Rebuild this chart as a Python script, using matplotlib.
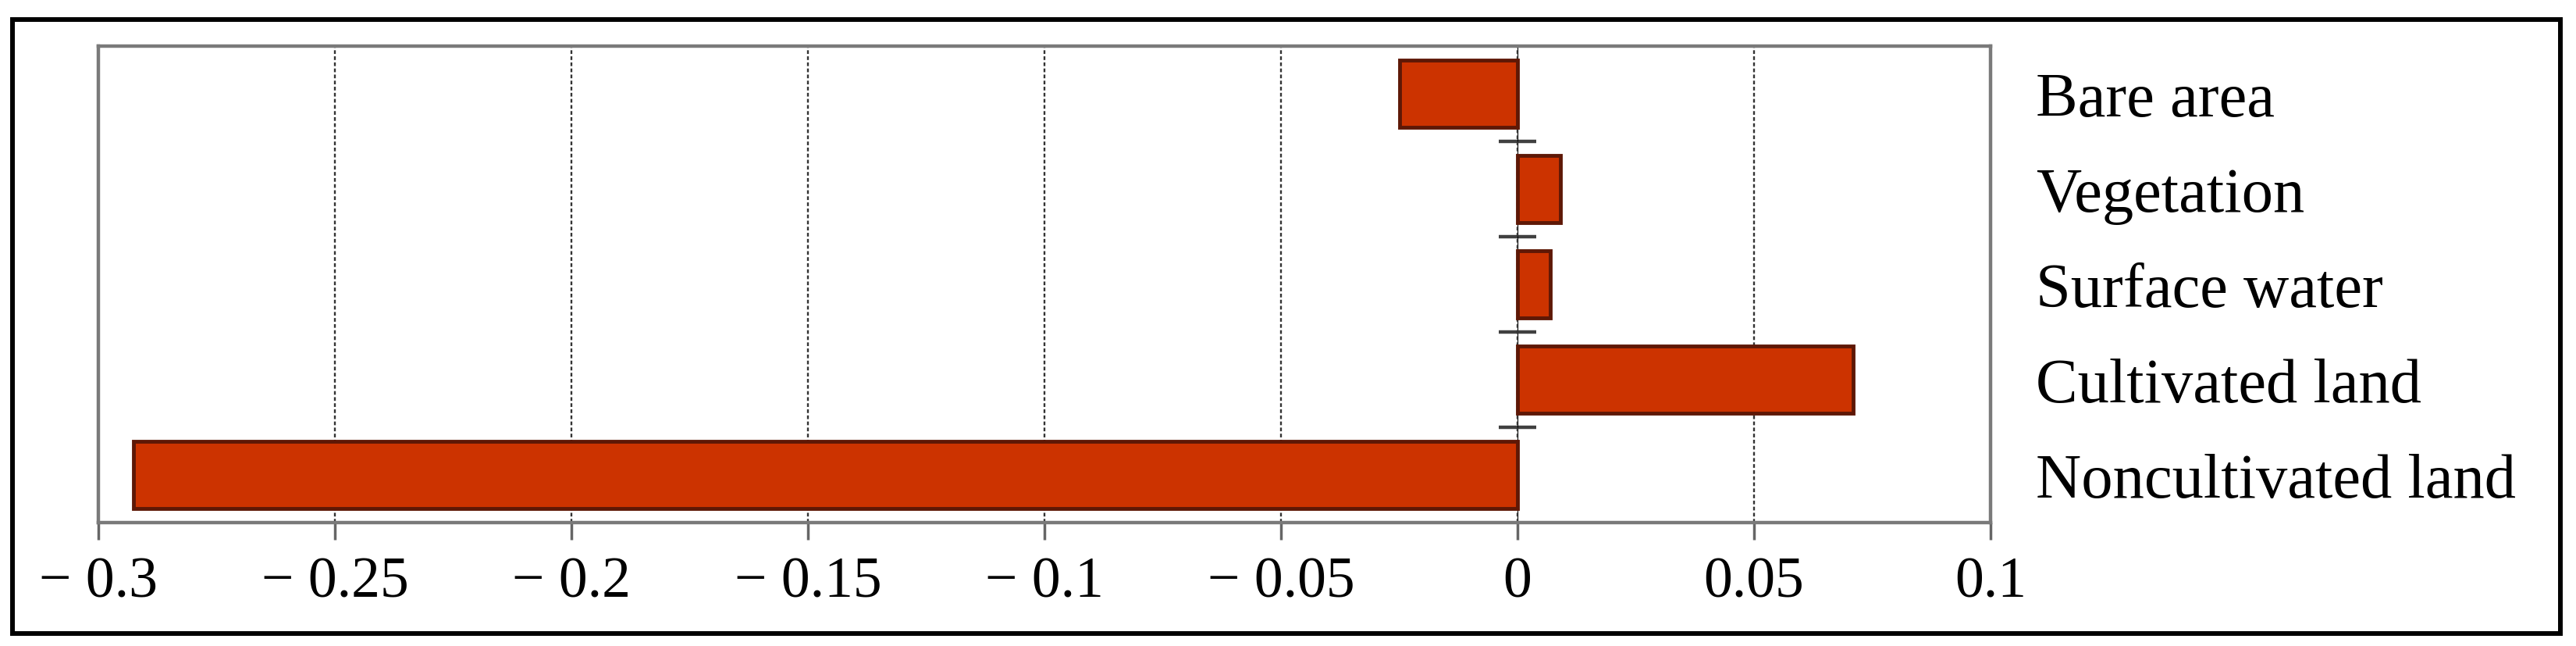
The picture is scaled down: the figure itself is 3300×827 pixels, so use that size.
#Horizontal bar chart of land-cover change
import matplotlib
matplotlib.use('Agg')
import matplotlib.pyplot as plt
from matplotlib.patches import Rectangle

#Data (top to bottom)
categories = ['Bare area', 'Vegetation', 'Surface water', 'Cultivated land', 'Noncultivated land']
values = [-0.025, 0.009, 0.007, 0.071, -0.2925]
xticks = [-0.3, -0.25, -0.2, -0.15, -0.1, -0.05, 0, 0.05, 0.1]

plt.rcParams['font.family'] = ['Liberation Serif', 'DejaVu Serif']

W, H = 3300, 828
fig = plt.figure(figsize=(W/100, H/100), dpi=100)
ax = fig.add_axes([126/W, 1 - 670/H, 2424/W, 610/H])

ypos = list(range(len(categories)))
ax.barh(ypos, values, height=0.7, color='#cc3300', edgecolor='#5e1806', linewidth=3.5, zorder=2)

ax.set_xlim(xticks[0], xticks[-1])
ax.set_ylim(-0.5, len(categories) - 0.5)
ax.invert_yaxis()

#Frame of the plot area
for side in ['left', 'right', 'top', 'bottom']:
    ax.spines[side].set_color('#7a7a7a')
    ax.spines[side].set_linewidth(3.2)

#x axis ticks and labels
def fmt(v):
    if v < 0:
        return '\u2212 ' + ('%g' % abs(v))
    return '%g' % v
ax.set_xticks(xticks)
ax.set_xticklabels([fmt(v) for v in xticks])
ax.tick_params(axis='x', direction='out', length=16, width=2.5, color='#666666',
               labelsize=53, pad=15)
ax.grid(axis='x', linestyle=(0, (2, 1.3)), color='#333333', linewidth=1.7, zorder=0)
ax.set_axisbelow(True)

#Category labels on the right side
ax.yaxis.set_ticks_position('right')
ax.set_yticks(ypos)
ax.set_yticklabels(categories)
ax.tick_params(axis='y', length=0, labelsize=58, pad=42)

#Vertical axis crossing at zero with ticks between categories
xmin, xmax = ax.get_xlim()
zero_ax = ax.secondary_yaxis((0 - xmin) / (xmax - xmin))
zero_ax.spines['left'].set_color('#666666')
zero_ax.spines['left'].set_linewidth(3.2)
zero_ax.set_yticks([p + 0.5 for p in ypos[:-1]])
zero_ax.set_yticklabels([])
zero_ax.tick_params(axis='y', direction='inout', length=34, width=3.2, color='#404040')

#Black border round the whole figure
fig.patches.append(Rectangle((16/W, 1 - 812/H), (3280 - 16)/W, (812 - 26)/H,
                             transform=fig.transFigure, fill=False,
                             edgecolor='black', linewidth=4.3))

fig.savefig('out.png', dpi=100)
